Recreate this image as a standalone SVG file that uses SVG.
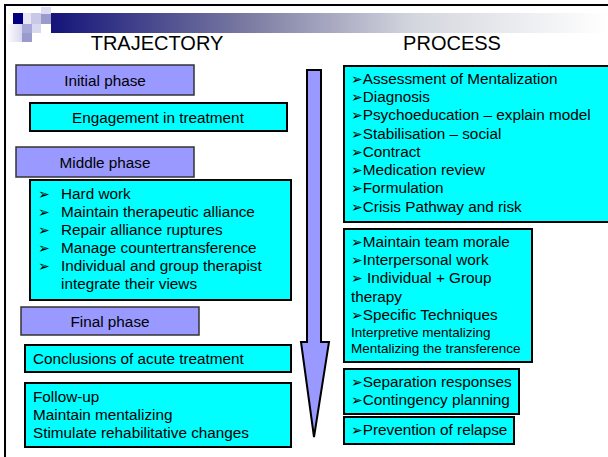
<svg xmlns="http://www.w3.org/2000/svg" width="608" height="457" viewBox="0 0 608 457">
<defs>
<linearGradient id="band" x1="0" y1="0" x2="1" y2="0">
<stop offset="0" stop-color="#14147a"/>
<stop offset="0.35" stop-color="#7a7aa2"/>
<stop offset="0.65" stop-color="#d4d6de"/>
<stop offset="1" stop-color="#ffffff"/>
</linearGradient>
<linearGradient id="fadeSq" x1="0" y1="0" x2="1" y2="0">
<stop offset="0" stop-color="#ffffff"/>
<stop offset="1" stop-color="#d8d8ee"/>
</linearGradient>
<style>
text{font-family:"Liberation Sans",Arial,sans-serif;fill:#000}
.title{font-size:20px}
.t{font-size:15.3px}
.s{font-size:13.5px}
.b{font-family:"DejaVu Sans",sans-serif;font-size:14px}
.phase{fill:#9999ff;stroke:#333;stroke-width:1.5}
.box{fill:#00ffff;stroke:#000;stroke-width:2}
.c{text-anchor:middle}
</style>
</defs>
<rect width="608" height="457" fill="#fff"/>
<g id="frame">
<line x1="4" y1="5" x2="608" y2="5" stroke="#000" stroke-width="2"/>
<line x1="5" y1="5" x2="5" y2="457" stroke="#000" stroke-width="2"/>
</g>
<g id="header">
<rect x="51" y="13" width="557" height="20" fill="url(#band)"/>
<rect x="6" y="24" width="16" height="18" fill="url(#fadeSq)"/>
<rect x="13" y="13" width="10" height="11" fill="#000080"/>
<rect x="23" y="13" width="8" height="11" fill="#e6e6f4"/>
<rect x="31" y="13" width="10" height="11" fill="#c8c8e8"/>
<rect x="41" y="7" width="10" height="7" fill="#dcdcf0"/>
<rect x="41" y="14" width="10" height="10" fill="#9a9acc"/>
<rect x="22" y="24" width="10" height="9" fill="#a8a8d8"/>
<rect x="32" y="24" width="9" height="9" fill="#d8d8ee"/>
<rect x="22" y="33" width="10" height="9" fill="#9a9acc"/>
<text class="title c" x="157" y="50">TRAJECTORY</text>
<text class="title c" x="452" y="50">PROCESS</text>
</g>
<g id="connectors">
<g id="timeline-arrow">
<path d="M307,70 H321 V342 H329 L314,437 L301,342 H307 Z" fill="#9999ff" stroke="#000" stroke-width="2" stroke-linejoin="miter"/>
</g>
</g>
<g id="initial-phase">
<rect class="phase" x="16" y="65" width="178" height="30"/>
<text class="t c" x="105" y="86">Initial phase</text>
</g>
<g id="engagement">
<rect class="box" x="30" y="103" width="257" height="28"/>
<text class="t c" x="158" y="123">Engagement in treatment</text>
</g>
<g id="middle-phase">
<rect class="phase" x="16" y="147" width="178" height="30"/>
<text class="t c" x="105" y="168">Middle phase</text>
</g>
<g id="middle-work">
<rect class="box" x="30" y="180" width="261" height="120"/>
<text class="t" x="38" y="199"><tspan class="b">➢</tspan><tspan x="61">Hard work</tspan></text>
<text class="t" x="38" y="217"><tspan class="b">➢</tspan><tspan x="61">Maintain therapeutic alliance</tspan></text>
<text class="t" x="38" y="235"><tspan class="b">➢</tspan><tspan x="61">Repair alliance ruptures</tspan></text>
<text class="t" x="38" y="253"><tspan class="b">➢</tspan><tspan x="61">Manage countertransference</tspan></text>
<text class="t" x="38" y="271"><tspan class="b">➢</tspan><tspan x="61">Individual and group therapist</tspan></text>
<text class="t" x="61" y="289">integrate their views</text>
</g>
<g id="final-phase">
<rect class="phase" x="21" y="307" width="178" height="28"/>
<text class="t c" x="110" y="327">Final phase</text>
</g>
<g id="conclusions">
<rect class="box" x="25" y="345" width="266" height="27"/>
<text class="t" x="33" y="364">Conclusions of acute treatment</text>
</g>
<g id="follow-up">
<rect class="box" x="25" y="383" width="266" height="64"/>
<text class="t" x="33" y="402">Follow-up</text>
<text class="t" x="33" y="420">Maintain mentalizing</text>
<text class="t" x="33" y="438">Stimulate rehabilitative changes</text>
</g>
<g id="process-initial">
<rect class="box" x="344" y="66" width="270" height="156"/>
<text class="t" x="351" y="84"><tspan class="b">➢</tspan>Assessment of Mentalization</text>
<text class="t" x="351" y="102"><tspan class="b">➢</tspan>Diagnosis</text>
<text class="t" x="351" y="120"><tspan class="b">➢</tspan>Psychoeducation – explain model</text>
<text class="t" x="351" y="139"><tspan class="b">➢</tspan>Stabilisation – social</text>
<text class="t" x="351" y="157"><tspan class="b">➢</tspan>Contract</text>
<text class="t" x="351" y="175"><tspan class="b">➢</tspan>Medication review</text>
<text class="t" x="351" y="193"><tspan class="b">➢</tspan>Formulation</text>
<text class="t" x="351" y="212"><tspan class="b">➢</tspan>Crisis Pathway and risk</text>
</g>
<g id="process-middle">
<rect class="box" x="344" y="229" width="188" height="133"/>
<text class="t" x="351" y="247"><tspan class="b">➢</tspan>Maintain team morale</text>
<text class="t" x="351" y="265"><tspan class="b">➢</tspan>Interpersonal work</text>
<text class="t" x="351" y="283"><tspan class="b">➢</tspan><tspan x="367">Individual + Group</tspan></text>
<text class="t" x="351" y="302">therapy</text>
<text class="t" x="351" y="320"><tspan class="b">➢</tspan>Specific Techniques</text>
<text class="s" x="351" y="337">Interpretive mentalizing</text>
<text class="s" x="351" y="353">Mentalizing the transference</text>
</g>
<g id="process-final">
<rect class="box" x="344" y="369" width="175" height="45"/>
<text class="t" x="351" y="387"><tspan class="b">➢</tspan>Separation responses</text>
<text class="t" x="351" y="405"><tspan class="b">➢</tspan>Contingency planning</text>
</g>
<g id="process-relapse">
<rect class="box" x="344" y="417" width="170" height="27"/>
<text class="t" x="351" y="435"><tspan class="b">➢</tspan>Prevention of relapse</text>
</g>
</svg>
